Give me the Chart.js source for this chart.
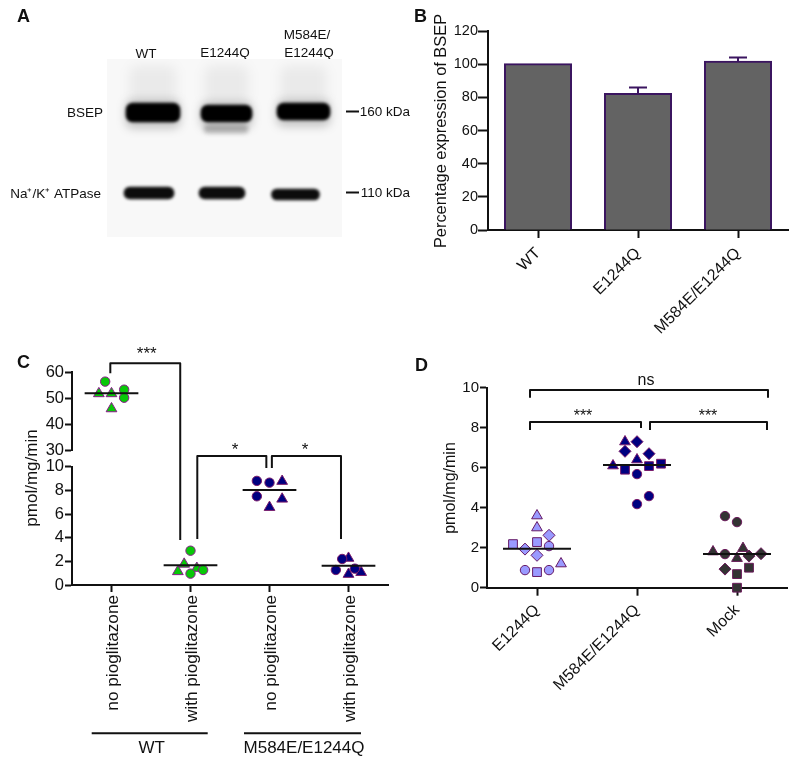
<!DOCTYPE html>
<html>
<head>
<meta charset="utf-8">
<script src="https://cdn.jsdelivr.net/npm/chart.js@4"></script>
<style>
html, body { margin: 0; padding: 0; background: #fff; }
canvas { position: absolute; }
</style>
</head>
<body>
<canvas id="panelA" width="412" height="250" style="left:0;top:0"></canvas>
<canvas id="panelB" width="388" height="340" style="left:412px;top:0"></canvas>
<canvas id="panelC" width="412" height="421" style="left:0;top:340px"></canvas>
<canvas id="panelD" width="388" height="416" style="left:412px;top:345px"></canvas>
<script>
// A: blot bands, read in gel pixels
const laneCenters = [153, 226.5, 303.5];
const bsepWidths = [54, 51, 53];
const bsepTop = [103, 105, 103];
const bsepBottom = [122, 122, 120];
const smearWidths = [46, 44, 46];
const smearTop = [66, 66, 66];
const smearBottom = [102, 102, 102];
const nakCenters = [149, 222, 295.5];
const nakWidths = [50, 46, 48];
const nakTop = [187, 187, 189];
const nakBottom = [199, 199, 200];
const faintCenters = [226];
const faintWidths = [44];
const faintTop = [125];
const faintBottom = [133];

// B: expression bars
const exprLabels = ['WT', 'E1244Q', 'M584E/E1244Q'];
const exprValues = [100, 82, 101.5];
const exprErrors = [0, 4, 2.5];

// C: activity, pairs are [x, value]
const cLabels = ['no pioglitazone', 'with pioglitazone', 'no pioglitazone', 'with pioglitazone'];
const cMeans = [51.8, 1.66, 8.03, 1.63];
const wtNoCircles = [[-0.08, 56.3], [0.16, 53.2], [0.16, 50.1]];
const wtNoTriangles = [[-0.16, 51.7], [0, 51.7], [0, 45.9]];
const wtWithCircles = [[1, 2.9], [1.16, 1.27], [1, 0.96]];
const wtWithTriangles = [[0.92, 1.77], [0.84, 1.14], [1.08, 1.42]];
const mutNoCircles = [[1.84, 8.8], [2, 8.65], [1.84, 7.5]];
const mutNoTriangles = [[2.16, 8.77], [2.16, 7.27], [2, 6.57]];
const mutWithCircles = [[2.92, 2.2], [2.84, 1.27], [3.08, 1.38]];
const mutWithTriangles = [[3, 2.27], [3, 0.91], [3.16, 1.07]];

// D: activity, pairs are [x, value]
const dLabels = ['E1244Q', 'M584E/E1244Q', 'Mock'];
const dMeans = [1.95, 6.13, 1.68];
const eqTriangles = [[0, 3.6], [0, 3.0], [0.24, 1.2]];
const eqSquares = [[-0.24, 2.18], [0, 2.28], [0, 0.78]];
const eqCircles = [[0.12, 2.08], [-0.12, 0.88], [0.12, 0.88]];
const eqDiamonds = [[0.12, 2.62], [-0.12, 1.93], [0, 1.62]];
const dmTriangles = [[0.88, 7.3], [1, 6.4], [0.76, 6.1]];
const dmDiamonds = [[1, 7.3], [0.88, 6.82], [1.12, 6.7]];
const dmSquares = [[0.88, 5.9], [1.12, 6.08], [1.24, 6.2]];
const dmCircles = [[1, 5.68], [1.12, 4.58], [1, 4.18]];
const mockCircles = [[1.88, 3.58], [2, 3.28], [1.88, 1.68]];
const mockTriangles = [[1.76, 1.8], [2.06, 1.97], [2, 1.47]];
const mockDiamonds = [[2.12, 1.58], [2.24, 1.7], [1.88, 0.93]];
const mockSquares = [[2.12, 1.0], [2, 0.68], [2, 0]];

const FONT = '"Liberation Sans", Arial, sans-serif';
const INK = '#111';
Chart.defaults.font.family = FONT;
Chart.defaults.color = INK;
Chart.defaults.animation = false;

// keep the plot area where the reference has it
function pin(size, vertical) {
    return function (scale) {
        if (vertical) scale.width = size; else scale.height = size;
        scale.paddingLeft = scale.paddingRight = scale.paddingTop = scale.paddingBottom = 0;
    };
}

function axisGrid(tickLength) {
    return { display: true, drawOnChartArea: false, tickLength: tickLength, tickWidth: 2, tickColor: INK, offset: false };
}
const axisBorder = { display: true, width: 2, color: INK };

function pairs(list) {
    return list.map(p => ({ x: p[0], y: p[1] }));
}

function marks(list, shape, fill, edge, yAxisID) {
    const radius = { circle: 4.7, triangle: 6.2, rect: 6.2, rectRot: 6 }[shape];
    return {
        data: pairs(list), pointStyle: shape, pointRadius: radius,
        pointBackgroundColor: fill, pointBorderColor: edge, pointBorderWidth: 1,
        showLine: false, clip: false, yAxisID: yAxisID || 'y'
    };
}

function meanLine(i, value, yAxisID) {
    return {
        data: [{ x: i - 0.34, y: value }, { x: i + 0.34, y: value }],
        showLine: true, pointRadius: 0, borderColor: INK, borderWidth: 2, clip: false, yAxisID: yAxisID || 'y'
    };
}

// text and rules given in page pixels
function pageText(left, top, items, rules, hook) {
    const draw = chart => {
        const c = chart.ctx;
        c.save();
        c.translate(-left, -top);
        (rules || []).forEach(r => {
            c.strokeStyle = INK;
            c.lineWidth = r[4] || 2;
            c.beginPath();
            c.moveTo(r[0], r[1]);
            c.lineTo(r[2], r[3]);
            c.stroke();
        });
        items.forEach(t => {
            c.save();
            c.font = t.font || '16px ' + FONT;
            c.fillStyle = INK;
            c.textAlign = t.align || 'center';
            c.textBaseline = 'alphabetic';
            c.translate(t.x, t.y);
            if (t.rotate) c.rotate(t.rotate);
            c.fillText(t.text, 0, 0);
            c.restore();
        });
        c.restore();
    };
    return { id: 'pageText', [hook || 'afterDraw']: draw };
}

// brackets: each point is [x, y scale id, value]
function bracketPlugin(paths) {
    return {
        id: 'brackets',
        afterDatasetsDraw(chart) {
            const c = chart.ctx;
            c.save();
            c.strokeStyle = INK;
            c.lineWidth = 2;
            c.lineJoin = 'round';
            paths.forEach(path => {
                c.beginPath();
                path.forEach((p, i) => {
                    const px = chart.scales.x.getPixelForValue(p[0]);
                    const py = chart.scales[p[1]].getPixelForValue(p[2]);
                    if (i === 0) c.moveTo(px, py); else c.lineTo(px, py);
                });
                c.stroke();
            });
            c.restore();
        }
    };
}

// ---- A
// one dataset per band, bar width is a dataset option
function bandBars(centers, widths, tops, bottoms, color, blur) {
    return centers.map((x, i) => ({
        type: 'bar', grouped: false, blur: blur, backgroundColor: color,
        data: [{ x: x, y: [tops[i], bottoms[i]] }],
        barThickness: widths[i],
        borderSkipped: false, borderRadius: 7
    }));
}

new Chart(document.getElementById('panelA'), {
    type: 'bar',
    data: {
        datasets: [].concat(
            bandBars(laneCenters, bsepWidths, bsepTop, bsepBottom, '#000', 1.8),
            bandBars(nakCenters, nakWidths, nakTop, nakBottom, '#0c0c0c', 1.6),
            bandBars(faintCenters, faintWidths, faintTop, faintBottom, 'rgba(0,0,0,0.24)', 2),
            bandBars(laneCenters, bsepWidths, bsepTop.map(v => v - 3), bsepBottom.map(v => v + 6), 'rgba(0,0,0,0.22)', 5),
            bandBars(laneCenters, smearWidths, smearTop, smearBottom, 'rgba(0,0,0,0.055)', 6)
        )
    },
    options: {
        responsive: false,
        layout: { autoPadding: false, padding: { top: 59, right: 70, bottom: 13, left: 107 } },
        plugins: { legend: { display: false }, tooltip: { enabled: false } },
        scales: {
            x: { type: 'linear', min: 107, max: 342, offset: false, display: false },
            y: { min: 59, max: 237, reverse: true, display: false }
        }
    },
    plugins: [
        pageText(0, 0, [
            { text: 'A', x: 17, y: 22, align: 'left', font: 'bold 18px ' + FONT },
            { text: 'WT', x: 146, y: 58, font: '13.5px ' + FONT },
            { text: 'E1244Q', x: 225, y: 57, font: '13.5px ' + FONT },
            { text: 'M584E/', x: 307, y: 39, font: '13.5px ' + FONT },
            { text: 'E1244Q', x: 309, y: 57, font: '13.5px ' + FONT },
            { text: 'BSEP', x: 103, y: 117, align: 'right', font: '13.5px ' + FONT },
            { text: 'Na\u207A/K\u207A ATPase', x: 101, y: 198, align: 'right', font: '13.5px ' + FONT },
            { text: '160 kDa', x: 410, y: 116, align: 'right', font: '13.5px ' + FONT },
            { text: '110 kDa', x: 410, y: 197, align: 'right', font: '13.5px ' + FONT }
        ], [[346, 111.5, 359, 111.5], [346, 192.5, 359, 192.5]], 'beforeDraw'),
        {
            id: 'gel',
            beforeDatasetsDraw(chart) {
                const a = chart.chartArea;
                chart.ctx.fillStyle = '#f8f8f8';
                chart.ctx.fillRect(a.left, a.top, a.right - a.left, a.bottom - a.top);
            },
            beforeDatasetDraw(chart, args) {
                chart.ctx.filter = 'blur(' + chart.data.datasets[args.index].blur + 'px)';
            },
            afterDatasetDraw(chart) {
                chart.ctx.filter = 'none';
            }
        }
    ]
});

// ---- B
new Chart(document.getElementById('panelB'), {
    type: 'bar',
    data: {
        labels: exprLabels,
        datasets: [{
            data: exprValues,
            backgroundColor: '#636363',
            borderColor: '#3b1560',
            borderWidth: 2,
            inflateAmount: 1,
            barPercentage: 0.66,
            categoryPercentage: 1
        }]
    },
    options: {
        responsive: false,
        layout: { autoPadding: false, padding: { top: 31, right: 12, bottom: 0, left: 0 } },
        plugins: { legend: { display: false }, tooltip: { enabled: false } },
        scales: {
            x: {
                afterFit: pin(110, false),
                grid: axisGrid(8),
                border: axisBorder,
                ticks: { font: { size: 16 }, minRotation: 45, maxRotation: 45, padding: 6, autoSkip: false }
            },
            y: {
                min: 0, max: 120,
                afterFit: pin(76, true),
                grid: axisGrid(10),
                border: axisBorder,
                ticks: { font: { size: 14.5 }, stepSize: 20, padding: 0, autoSkip: false }
            }
        }
    },
    plugins: [
        {
            id: 'errorBars',
            afterDatasetsDraw(chart) {
                const c = chart.ctx, y = chart.scales.y, x = chart.scales.x;
                c.save();
                c.strokeStyle = '#3b1560';
                c.lineWidth = 2;
                exprErrors.forEach((err, i) => {
                    if (!err) return;
                    const px = x.getPixelForValue(i);
                    const py0 = y.getPixelForValue(exprValues[i]);
                    const py1 = y.getPixelForValue(exprValues[i] + err);
                    c.beginPath();
                    c.moveTo(px, py0); c.lineTo(px, py1);
                    c.moveTo(px - 9, py1); c.lineTo(px + 9, py1);
                    c.stroke();
                });
                c.restore();
            }
        },
        pageText(412, 0, [
            { text: 'B', x: 414, y: 22, align: 'left', font: 'bold 18px ' + FONT },
            { text: 'Percentage expression of BSEP', x: 446, y: 131, rotate: -Math.PI / 2, font: '16.4px ' + FONT }
        ])
    ]
});

// ---- C
const GREEN = '#08c808', GREEN_EDGE = '#8a1a8a';
const NAVY = '#000080', NAVY_EDGE = '#7a1a6a';
const LILAC = '#9a9aff', LILAC_EDGE = '#661a66';
const DARK = '#333333', DARK_EDGE = '#6a1a5a';

new Chart(document.getElementById('panelC'), {
    type: 'scatter',
    data: {
        datasets: [
            meanLine(0, cMeans[0], 'yTop'),
            meanLine(1, cMeans[1], 'yLow'),
            meanLine(2, cMeans[2], 'yLow'),
            meanLine(3, cMeans[3], 'yLow'),
            marks(wtNoCircles, 'circle', GREEN, GREEN_EDGE, 'yTop'),
            marks(wtNoTriangles, 'triangle', GREEN, GREEN_EDGE, 'yTop'),
            marks(wtWithCircles, 'circle', GREEN, GREEN_EDGE, 'yLow'),
            marks(wtWithTriangles, 'triangle', GREEN, GREEN_EDGE, 'yLow'),
            marks(mutNoCircles, 'circle', NAVY, NAVY_EDGE, 'yLow'),
            marks(mutNoTriangles, 'triangle', NAVY, NAVY_EDGE, 'yLow'),
            marks(mutWithCircles, 'circle', NAVY, NAVY_EDGE, 'yLow'),
            marks(mutWithTriangles, 'triangle', NAVY, NAVY_EDGE, 'yLow')
        ]
    },
    options: {
        responsive: false,
        layout: { autoPadding: false, padding: { top: 32, right: 24, bottom: 0, left: 0 } },
        plugins: { legend: { display: false }, tooltip: { enabled: false } },
        scales: {
            x: {
                type: 'linear', min: -0.5, max: 3.5,
                afterBuildTicks: s => { s.ticks = cLabels.map((_, i) => ({ value: i })); },
                afterFit: pin(176, false),
                grid: axisGrid(7),
                border: axisBorder,
                ticks: {
                    font: { size: 17.2 }, minRotation: 90, maxRotation: 90, padding: 3, labelOffset: 2, autoSkip: false,
                    callback: v => cLabels[v]
                }
            },
            yLow: {
                position: 'left', stack: 'broken', stackWeight: 118.3, min: 0, max: 10,
                afterFit: pin(72, true),
                grid: axisGrid(7),
                border: axisBorder,
                ticks: { font: { size: 16.5 }, stepSize: 2, padding: 1, autoSkip: false }
            },
            yGap: {
                position: 'left', stack: 'broken', stackWeight: 16.7, min: 0, max: 1,
                afterFit: pin(72, true),
                grid: { display: false },
                border: { display: false },
                ticks: { display: false }
            },
            yTop: {
                position: 'left', stack: 'broken', stackWeight: 78, min: 30, max: 60,
                afterFit: pin(72, true),
                grid: axisGrid(7),
                border: axisBorder,
                ticks: { font: { size: 16.5 }, stepSize: 10, padding: 1, autoSkip: false }
            }
        }
    },
    plugins: [
        bracketPlugin([
            [[-0.015, 'yTop', 59.5], [-0.015, 'yTop', 63.35], [0.87, 'yTop', 63.35], [0.87, 'yLow', 3.8]],
            [[1.086, 'yLow', 3.89], [1.086, 'yLow', 10.9], [1.96, 'yLow', 10.9], [1.96, 'yLow', 9.9]],
            [[2.03, 'yLow', 9.9], [2.03, 'yLow', 10.9], [2.905, 'yLow', 10.9], [2.905, 'yLow', 3.89]]
        ]),
        pageText(0, 340, [
            { text: 'C', x: 17, y: 368, align: 'left', font: 'bold 18px ' + FONT },
            { text: 'pmol/mg/min', x: 37, y: 478, rotate: -Math.PI / 2, font: '17px ' + FONT },
            { text: '***', x: 146.7, y: 359, font: '17px ' + FONT },
            { text: '*', x: 235, y: 455, font: '17px ' + FONT },
            { text: '*', x: 305, y: 455, font: '17px ' + FONT },
            { text: 'WT', x: 151.7, y: 752.5, font: '17px ' + FONT },
            { text: 'M584E/E1244Q', x: 304, y: 752.5, font: '17px ' + FONT }
        ], [[91.7, 733.3, 207.7, 733.3], [244, 733.3, 361, 733.3]])
    ]
});

// ---- D
new Chart(document.getElementById('panelD'), {
    type: 'scatter',
    data: {
        datasets: [
            meanLine(0, dMeans[0]),
            meanLine(1, dMeans[1]),
            meanLine(2, dMeans[2]),
            marks(eqTriangles, 'triangle', LILAC, LILAC_EDGE),
            marks(eqSquares, 'rect', LILAC, LILAC_EDGE),
            marks(eqCircles, 'circle', LILAC, LILAC_EDGE),
            marks(eqDiamonds, 'rectRot', LILAC, LILAC_EDGE),
            marks(dmTriangles, 'triangle', NAVY, NAVY_EDGE),
            marks(dmDiamonds, 'rectRot', NAVY, NAVY_EDGE),
            marks(dmSquares, 'rect', NAVY, NAVY_EDGE),
            marks(dmCircles, 'circle', NAVY, NAVY_EDGE),
            marks(mockCircles, 'circle', DARK, DARK_EDGE),
            marks(mockTriangles, 'triangle', DARK, DARK_EDGE),
            marks(mockDiamonds, 'rectRot', DARK, DARK_EDGE),
            marks(mockSquares, 'rect', DARK, DARK_EDGE)
        ]
    },
    options: {
        responsive: false,
        layout: { autoPadding: false, padding: { top: 42.7, right: 13, bottom: 0, left: 0 } },
        plugins: { legend: { display: false }, tooltip: { enabled: false } },
        scales: {
            x: {
                type: 'linear', min: -0.5, max: 2.5,
                afterBuildTicks: s => { s.ticks = dLabels.map((_, i) => ({ value: i })); },
                afterFit: pin(173.3, false),
                grid: axisGrid(8),
                border: axisBorder,
                ticks: {
                    font: { size: 16 }, minRotation: 45, maxRotation: 45, padding: 5, autoSkip: false,
                    callback: v => dLabels[v]
                }
            },
            y: {
                min: 0, max: 10,
                afterFit: pin(75, true),
                grid: axisGrid(7),
                border: axisBorder,
                ticks: { font: { size: 15 }, stepSize: 2, padding: 1, autoSkip: false }
            }
        }
    },
    plugins: [
        bracketPlugin([
            [[-0.07, 'y', 9.5], [-0.07, 'y', 9.88], [2.31, 'y', 9.88], [2.31, 'y', 9.5]],
            [[-0.07, 'y', 7.88], [-0.07, 'y', 8.28], [1.04, 'y', 8.28], [1.04, 'y', 7.98]],
            [[1.13, 'y', 7.88], [1.13, 'y', 8.28], [2.3, 'y', 8.28], [2.3, 'y', 7.88]]
        ]),
        pageText(412, 345, [
            { text: 'D', x: 415, y: 371, align: 'left', font: 'bold 18px ' + FONT },
            { text: 'pmol/mg/min', x: 455, y: 488, rotate: -Math.PI / 2, font: '16px ' + FONT },
            { text: 'ns', x: 646, y: 385, font: '16px ' + FONT },
            { text: '***', x: 583, y: 421, font: '16px ' + FONT },
            { text: '***', x: 708, y: 421, font: '16px ' + FONT }
        ])
    ]
});
</script>
</body>
</html>
